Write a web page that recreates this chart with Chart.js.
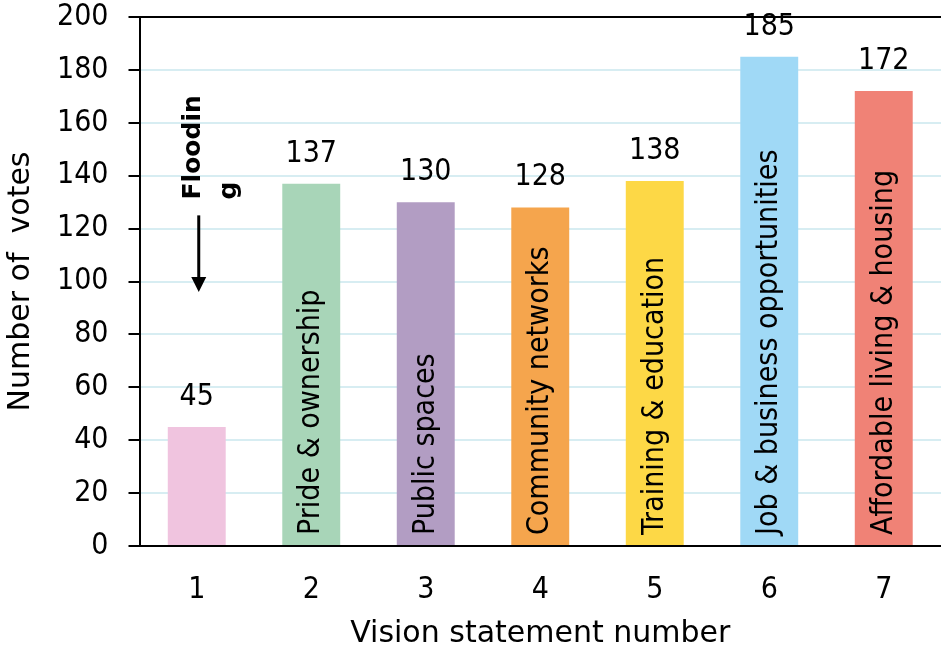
<!DOCTYPE html>
<html>
<head>
<meta charset="utf-8">
<script src="https://cdn.jsdelivr.net/npm/chart.js@4/dist/chart.umd.min.js"></script>
<style>
html,body{margin:0;padding:0;background:#fff;}
#wrap{width:941px;height:654px;position:relative;}
</style>
</head>
<body>
<div id="wrap"><canvas id="c" width="941" height="654"></canvas></div>
<script>
const categories = ['1','2','3','4','5','6','7'];
const votes = [45, 137, 130, 128, 138, 185, 172];
const barLabels = ['', 'Pride & ownership', 'Public spaces', 'Community networks', 'Training & education', 'Job & business opportunities', 'Affordable living & housing'];
const barColors = ['#f0c4df', '#a8d5b8', '#b29dc3', '#f5a54d', '#fdd846', '#a0d9f6', '#f08276'];
const yTicks = [0, 20, 40, 60, 80, 100, 120, 140, 160, 180, 200];
const floodLines = ['Floodin', 'g'];
const floodTextStart = 131;   // value where the rotated note starts
const floodArrow = [125, 96]; // arrow from / to (votes)
const floodIndex = 0;

const FONT = '"DejaVu Sans Condensed", "DejaVu Sans", sans-serif';
const TFONT = '"DejaVu Sans", sans-serif';

const annot = {
  id: 'annot',
  afterDatasetsDraw(chart) {
    const ctx = chart.ctx;
    const ys = chart.scales.y;
    const xs = chart.scales.x;
    const meta = chart.getDatasetMeta(0);
    const base = ys.getPixelForValue(0);
    meta.data.forEach((bar, i) => {
      ctx.save();
      ctx.fillStyle = '#000';
      ctx.font = '30px ' + FONT;
      ctx.textAlign = 'center';
      ctx.textBaseline = 'alphabetic';
      ctx.fillText(String(votes[i]), bar.x, bar.y - 22);
      ctx.restore();
      if (barLabels[i]) {
        ctx.save();
        ctx.translate(bar.x, base - 11);
        ctx.rotate(-Math.PI / 2);
        ctx.fillStyle = '#000';
        ctx.font = '30px ' + FONT;
        ctx.textAlign = 'left';
        ctx.textBaseline = 'middle';
        ctx.fillText(barLabels[i], 0, 0);
        ctx.restore();
      }
    });
    // Flooding note
    const cx = xs.getPixelForValue(floodIndex);
    ctx.save();
    ctx.translate(cx + 3, ys.getPixelForValue(floodTextStart));
    ctx.rotate(-Math.PI / 2);
    ctx.fillStyle = '#000';
    ctx.font = 'bold 25px "DejaVu Sans", sans-serif';
    ctx.textAlign = 'left';
    ctx.textBaseline = 'alphabetic';
    floodLines.forEach((l, k) => ctx.fillText(l, 0, k * 36));
    ctx.restore();
    // arrow
    const ax = cx + 2;
    const y1 = ys.getPixelForValue(floodArrow[0]);
    const y2 = ys.getPixelForValue(floodArrow[1]);
    ctx.save();
    ctx.strokeStyle = '#000';
    ctx.fillStyle = '#000';
    ctx.lineWidth = 3;
    ctx.beginPath();
    ctx.moveTo(ax, y1);
    ctx.lineTo(ax, y2 - 12);
    ctx.stroke();
    ctx.beginPath();
    ctx.moveTo(ax - 7.5, y2 - 15);
    ctx.lineTo(ax + 7.5, y2 - 15);
    ctx.lineTo(ax, y2);
    ctx.closePath();
    ctx.fill();
    ctx.restore();
  }
};

new Chart(document.getElementById('c'), {
  type: 'bar',
  data: {
    labels: categories,
    datasets: [{
      data: votes,
      backgroundColor: barColors,
      borderWidth: 0,
      barPercentage: 0.506,
      categoryPercentage: 1.0
    }]
  },
  options: {
    responsive: false,
    animation: false,
    layout: { autoPadding: false, padding: { top: 17, right: 0, left: 0, bottom: 0 } },
    plugins: { legend: { display: false }, tooltip: { enabled: false } },
    scales: {
      x: {
        grid: { display: false, drawTicks: false },
        border: { display: true, color: '#000', width: 2 },
        ticks: { color: '#000', font: { family: FONT, size: 30 }, padding: 26 },
        title: { display: true, text: 'Vision statement number', color: '#000', font: { family: TFONT, size: 30 }, padding: { top: 0, bottom: 2 } },
        afterFit(s) { s.height = 108; }
      },
      y: {
        min: 0, max: 200,
        afterBuildTicks(s) { s.ticks = yTicks.map(v => ({ value: v })); },
        grid: {
          color: ctx => (ctx.tick && ctx.tick.value === 200) ? '#000' : '#d7edf2',
          lineWidth: 2,
          tickColor: '#000', tickLength: 11, drawTicks: true
        },
        border: { display: true, color: '#000', width: 2 },
        ticks: { color: '#000', font: { family: FONT, size: 30 }, padding: 20 },
        title: { display: true, text: 'Number of  votes', color: '#000', font: { family: TFONT, size: 30 }, padding: { top: 3, bottom: 0 } },
        afterFit(s) { s.width = 139.5; s.paddingTop = 0; s.paddingBottom = 0; }
      }
    }
  },
  plugins: [annot]
});
</script>
</body>
</html>
